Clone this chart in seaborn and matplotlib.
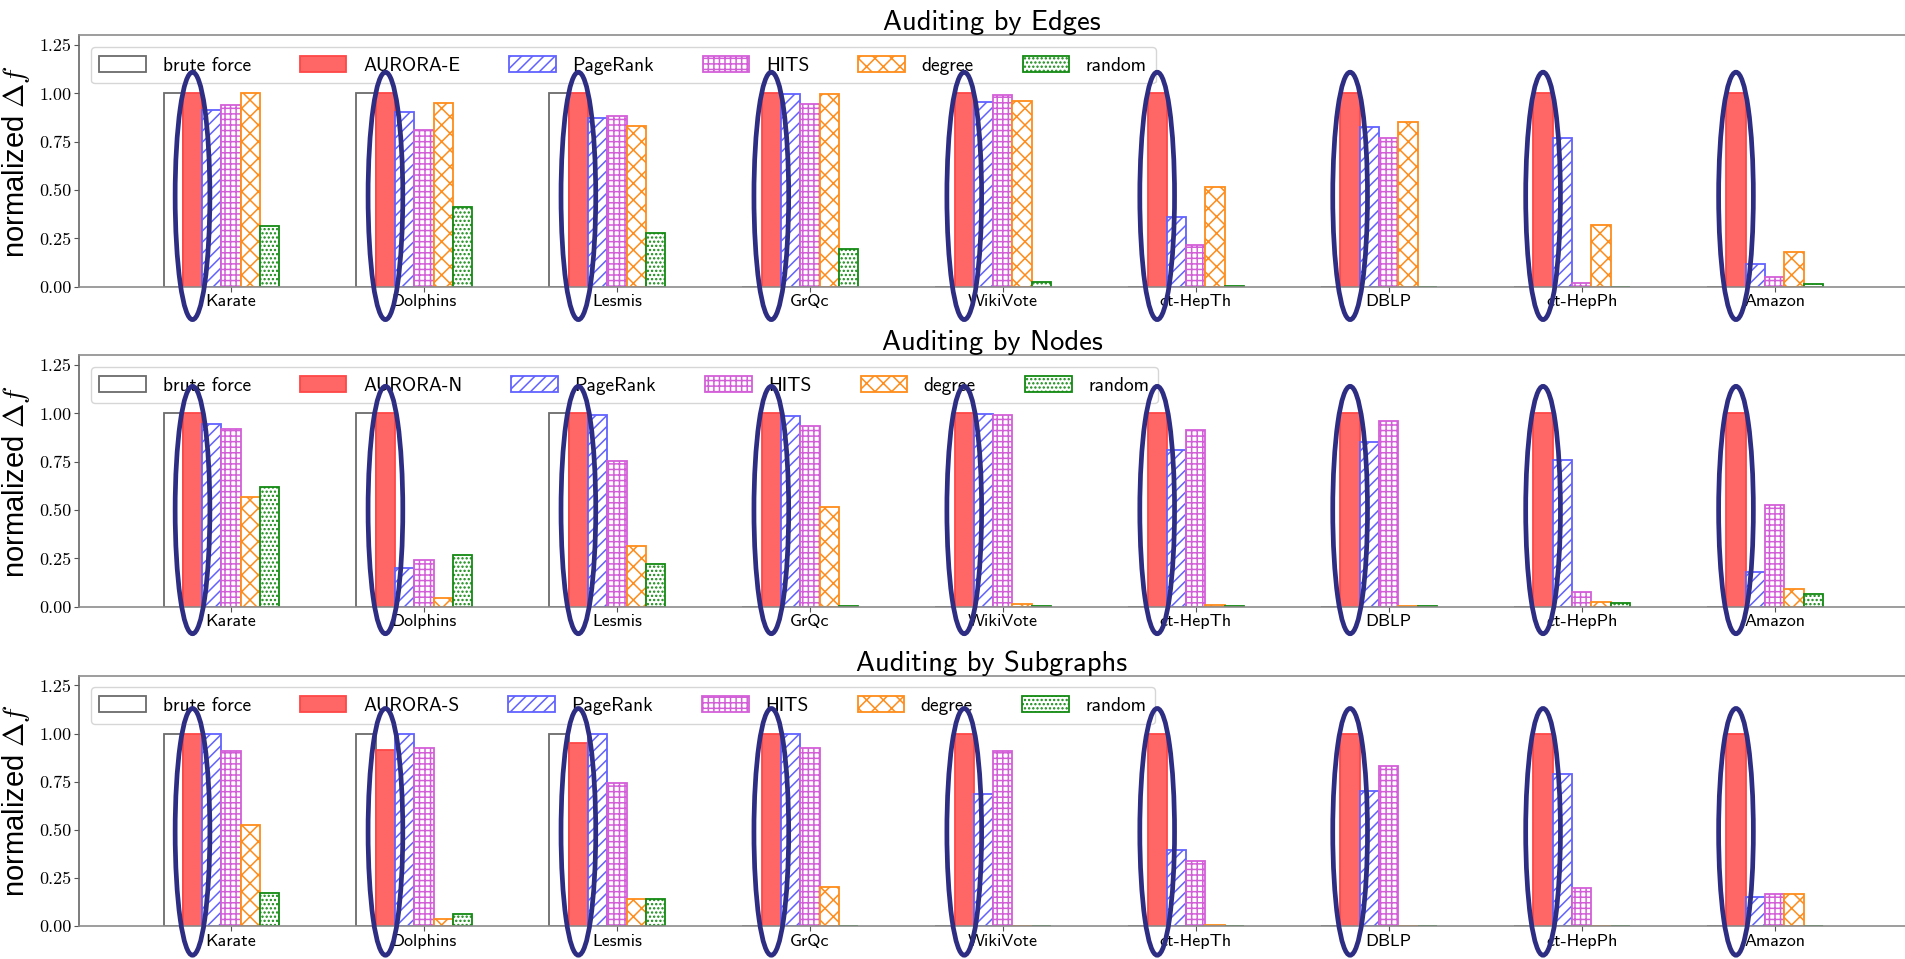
import numpy as np
import pandas as pd
import matplotlib
matplotlib.use("Agg")
import matplotlib.pyplot as plt
from matplotlib.patches import Ellipse
import seaborn as sns

plt.rcParams["mathtext.fontset"] = "cm"
plt.rcParams["hatch.linewidth"] = 1.1
plt.rcParams["axes.formatter.use_mathtext"] = True

# data
datasets = ["Karate", "Dolphins", "Lesmis", "GrQc", "WikiVote",
            "ct-HepTh", "DBLP", "ct-HepPh", "Amazon"]
titles = ["Auditing by Edges", "Auditing by Nodes", "Auditing by Subgraphs"]
aurora_names = ["AURORA-E", "AURORA-N", "AURORA-S"]
other_methods = ["PageRank", "HITS", "degree", "random"]

brute_force = [1.0, 1.0, 1.0, 0, 0, 0, 0, 0, 0]

# auditing by edges
aurora_e = [1.0, 1.0, 1.0, 1.0, 1.0, 1.0, 1.0, 1.0, 1.0]
pagerank_e = [0.915, 0.903, 0.874, 0.995, 0.957, 0.359, 0.828, 0.771, 0.117]
hits_e = [0.938, 0.809, 0.884, 0.943, 0.993, 0.217, 0.771, 0.021, 0.048]
degree_e = [1.0, 0.95, 0.833, 0.995, 0.959, 0.517, 0.85, 0.319, 0.181]
random_e = [0.312, 0.412, 0.279, 0.195, 0.026, 0.002, 0.001, 0.001, 0.016]

# auditing by nodes
aurora_n = [1.0, 1.0, 1.0, 1.0, 1.0, 1.0, 1.0, 1.0, 1.0]
pagerank_n = [0.945, 0.2, 0.991, 0.988, 0.998, 0.81, 0.852, 0.76, 0.181]
hits_n = [0.917, 0.243, 0.755, 0.934, 0.99, 0.916, 0.962, 0.078, 0.528]
degree_n = [0.569, 0.047, 0.314, 0.517, 0.012, 0.008, 0.003, 0.024, 0.091]
random_n = [0.619, 0.269, 0.219, 0.004, 0.002, 0.002, 0.004, 0.017, 0.064]

# auditing by subgraphs
aurora_s = [1.0, 0.917, 0.95, 1.0, 1.0, 1.0, 1.0, 1.0, 1.0]
pagerank_s = [0.998, 1.0, 1.0, 0.997, 0.684, 0.396, 0.703, 0.788, 0.15]
hits_s = [0.907, 0.927, 0.744, 0.926, 0.91, 0.34, 0.834, 0.197, 0.166]
degree_s = [0.525, 0.036, 0.143, 0.202, 0.002, 0.005, 0.002, 0.002, 0.166]
random_s = [0.174, 0.066, 0.143, 0.001, 0.001, 0.001, 0.001, 0.001, 0.0]

panels = [
    [brute_force, aurora_e, pagerank_e, hits_e, degree_e, random_e],
    [brute_force, aurora_n, pagerank_n, hits_n, degree_n, random_n],
    [brute_force, aurora_s, pagerank_s, hits_s, degree_s, random_s],
]

yticks = [0.0, 0.25, 0.5, 0.75, 1.0, 1.25]

# (facecolor, edgecolor, hatch) per method
styles = [
    ("white", "#6b6b6b", ""),
    ("#ff6666", "#ff4747", ""),
    ("white", "#6262ff", "///"),
    ("white", "#d35fd8", "+++"),
    ("white", "#ff8c1a", "xx"),
    ("white", "#138a13", "...."),
]
navy = "#2d2d84"

fig = plt.figure(figsize=(19.05, 9.59), dpi=100)
axes_boxes = [
    [0.0415, 0.7010, 0.9585, 0.2620],
    [0.0415, 0.3674, 0.9585, 0.2620],
    [0.0415, 0.0341, 0.9585, 0.2613],
]
ell_center = [0.47, 0.50, 0.49]

for p, series in enumerate(panels):
    ax = fig.add_axes(axes_boxes[p])
    methods = ["brute force", aurora_names[p]] + other_methods
    df = pd.DataFrame({
        "dataset": datasets * len(methods),
        "method": np.repeat(methods, len(datasets)),
        "value": np.concatenate(series),
    })
    sns.barplot(data=df, x="dataset", y="value", hue="method",
                order=datasets, hue_order=methods, width=0.6,
                saturation=1, errorbar=None, legend=False, ax=ax)

    for cont, (fc, ec, hatch) in zip(ax.containers, styles):
        for bar in cont:
            bar.set_facecolor(fc)
            bar.set_edgecolor(ec)
            bar.set_hatch(hatch)
            bar.set_linewidth(1.3)

    ax.set_xlim(-0.738, 8.726)
    ax.set_ylim(0, 1.3)
    ax.set_xticks(np.arange(len(datasets)) + 0.05)
    ax.set_xticklabels(datasets, fontfamily="cmss10", fontsize=13)
    ax.set_yticks(yticks)
    ax.set_yticklabels([f"{t:.2f}" for t in yticks], fontfamily="cmr10", fontsize=13)
    ax.tick_params(axis="x", pad=2, length=3.5, color="#555555")
    ax.tick_params(axis="y", pad=2, length=3.5, color="#555555")
    ax.set_xlabel("")
    ax.set_ylabel(r"normalized $\Delta f$", fontfamily="Liberation Sans", fontsize=21)
    ax.yaxis.set_label_coords(-0.026, 0.5)
    ax.set_title(titles[p], fontfamily="cmss10", fontsize=20.5, pad=3)

    ax.spines["right"].set_visible(False)
    for side in ["top", "bottom", "left"]:
        ax.spines[side].set_color("#8c8c8c")
        ax.spines[side].set_linewidth(1.2)
    ax.spines["left"].set_color("#666666")

    ax.legend(ax.containers, methods, loc="upper left", ncol=6,
              prop={"family": "cmss10", "size": 14}, handlelength=2.4,
              handleheight=0.9, handletextpad=0.85, columnspacing=2.52,
              borderaxespad=0.6, borderpad=0.45)

    # ellipses around the AURORA bars
    for bar in ax.containers[1]:
        cx = bar.get_x() + bar.get_width() / 2
        ax.add_patch(Ellipse((cx, ell_center[p]), 0.18, 1.28, fill=False,
                             edgecolor=navy, linewidth=3.4, clip_on=False,
                             zorder=10))

fig.savefig("out.png", dpi=100)
